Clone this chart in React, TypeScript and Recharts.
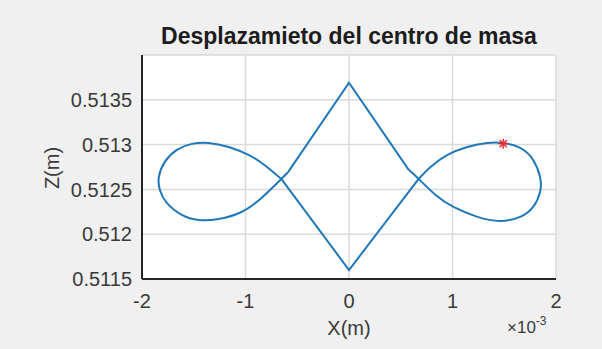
import { ComposedChart, Line, Scatter, XAxis, YAxis, CartesianGrid } from "recharts";

// x values are in units of 10^-3 m (the axis shows the ×10^-3 multiplier)
const xTicks = [-2, -1, 0, 1, 2];
const zTicks = [0.5115, 0.512, 0.5125, 0.513, 0.5135];

// upper edges of the diamond: left kink -> top -> right kink
const diamondTopX = [-0.587, 0, 0.577];
const diamondTopZ = [0.512695, 0.51369, 0.512718];

// lower edges of the diamond: left crossing -> bottom -> right crossing
const diamondBottomX = [-0.654, 0, 0.673];
const diamondBottomZ = [0.512617, 0.5116, 0.512617];

// right loop, from the kink down through the crossing, round, and back to the crossing
const rightLoopX = [0.577, 0.673, 0.837, 1.01, 1.24, 1.462, 1.654, 1.779, 1.846, 1.846, 1.779, 1.654, 1.49, 1.337, 1.144, 0.952, 0.788, 0.673];
const rightLoopZ = [0.512718, 0.512617, 0.512438, 0.512304, 0.512193, 0.512148, 0.512193, 0.512304, 0.512472, 0.512639, 0.512829, 0.512963, 0.513019, 0.513019, 0.512974, 0.512885, 0.512751, 0.512617];

// left loop, same idea mirrored
const leftLoopX = [-0.587, -0.654, -0.846, -1.038, -1.26, -1.452, -1.615, -1.76, -1.827, -1.837, -1.779, -1.663, -1.519, -1.356, -1.163, -0.971, -0.817, -0.654];
const leftLoopZ = [0.512695, 0.512617, 0.512405, 0.512248, 0.51217, 0.512159, 0.512215, 0.512349, 0.512494, 0.512639, 0.512807, 0.512941, 0.513008, 0.513019, 0.512974, 0.512885, 0.512773, 0.512617];

// current position marker
const markerX = [1.49];
const markerZ = [0.51301];

const toPoints = (xs: number[], zs: number[]) => xs.map((x, i) => ({ x, z: zs[i] }));

const BLUE = "#1f78b9";
const FONT = "'Liberation Sans', Arial, Helvetica, sans-serif";

const Star = (props: any) => {
  const { cx, cy } = props;
  const r = 5;
  const d = r * 0.72;
  return (
    <g stroke="#f0282a" strokeWidth={1.4}>
      <line x1={cx - r} y1={cy} x2={cx + r} y2={cy} />
      <line x1={cx} y1={cy - r} x2={cx} y2={cy + r} />
      <line x1={cx - d} y1={cy - d} x2={cx + d} y2={cy + d} />
      <line x1={cx - d} y1={cy + d} x2={cx + d} y2={cy - d} />
    </g>
  );
};

export default function App() {
  return (
    <div style={{ position: "absolute", left: 0, top: 0, width: 602, height: 349, background: "#f0f0f0", fontFamily: FONT }}>
      <div
        style={{
          position: "absolute",
          left: 142,
          width: 414,
          top: 23,
          textAlign: "center",
          fontSize: 23,
          fontWeight: "bold",
          color: "#1c1c1c",
        }}
      >
        Desplazamieto del centro de masa
      </div>
      <ComposedChart width={602} height={349} margin={{ top: 55, right: 46, bottom: 40, left: 0 }}>
        <CartesianGrid fill="#ffffff" stroke="#dadada" strokeWidth={1.5} />
        <XAxis
          type="number"
          dataKey="x"
          domain={[-2, 2]}
          ticks={xTicks}
          allowDataOverflow
          height={30}
          tickLine={false}
          tickSize={0}
          tickMargin={15}
          axisLine={{ stroke: "#262626", strokeWidth: 2 }}
          tick={{ fontSize: 20, fill: "#3a3a3a", fontFamily: FONT }}
          label={{
            content: (p: any) => {
              const vb = p.viewBox;
              return (
                <g fontFamily={FONT} fill="#3a3a3a">
                  <text x={vb.x + vb.width / 2} y={vb.y + 56} textAnchor="middle" fontSize={20}>
                    X(m)
                  </text>
                  <text x={vb.x + vb.width - 49} y={vb.y + 54} fontSize={17}>
                    ×10
                    <tspan dy={-8} fontSize={12}>
                      -3
                    </tspan>
                  </text>
                </g>
              );
            },
          }}
        />
        <YAxis
          type="number"
          dataKey="z"
          domain={[0.5115, 0.514]}
          ticks={zTicks}
          allowDataOverflow
          width={142}
          tickLine={false}
          tickSize={0}
          tickMargin={10}
          axisLine={{ stroke: "#262626", strokeWidth: 2 }}
          tick={{ fontSize: 20, fill: "#3a3a3a", fontFamily: FONT }}
          tickFormatter={(v: number) => String(+v.toFixed(4))}
          label={{
            content: () => (
              <text
                x={52}
                y={168}
                transform="rotate(-90, 52, 168)"
                textAnchor="middle"
                dominantBaseline="central"
                fontSize={20}
                fill="#3a3a3a"
                fontFamily={FONT}
              >
                Z(m)
              </text>
            ),
          }}
        />
        <Line data={toPoints(diamondTopX, diamondTopZ)} dataKey="z" type="linear" stroke={BLUE} strokeWidth={2} dot={false} isAnimationActive={false} />
        <Line data={toPoints(diamondBottomX, diamondBottomZ)} dataKey="z" type="linear" stroke={BLUE} strokeWidth={2} dot={false} isAnimationActive={false} />
        <Line data={toPoints(rightLoopX, rightLoopZ)} dataKey="z" type="natural" stroke={BLUE} strokeWidth={2} dot={false} isAnimationActive={false} />
        <Line data={toPoints(leftLoopX, leftLoopZ)} dataKey="z" type="natural" stroke={BLUE} strokeWidth={2} dot={false} isAnimationActive={false} />
        <Scatter data={toPoints(markerX, markerZ)} dataKey="z" shape={<Star />} isAnimationActive={false} />
      </ComposedChart>
    </div>
  );
}
